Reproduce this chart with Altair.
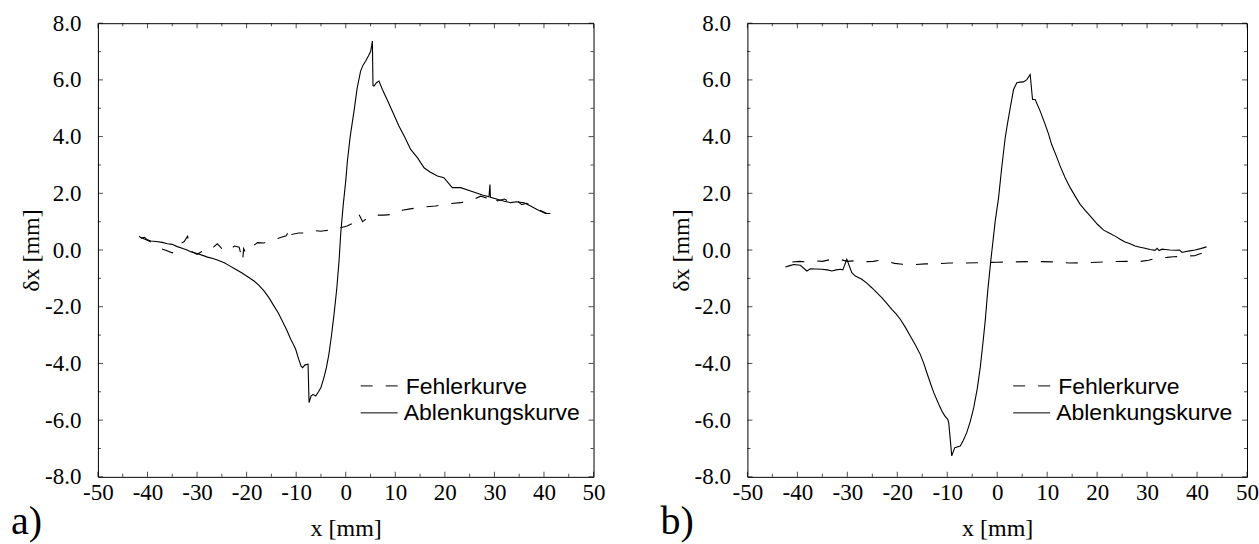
import altair as alt
import pandas as pd

# ---------------- data ----------------
# panel a) Ablenkungskurve
a_abl_x = [-41.7, -41.2, -40.6, -40.0, -39.3, -38.3, -37.0, -36.0, -35.0, -34.0, -33.0, -32.0,
           -31.3, -30.0, -29.0, -27.9, -26.8, -25.9, -24.5, -23.5, -22.5, -21.0, -19.7, -18.5,
           -17.5, -16.5, -15.5, -14.5, -13.6, -12.8, -11.9, -11.1, -10.5, -10.1, -9.5, -9.0,
           -8.7, -8.2, -7.6, -7.4, -7.0, -6.6, -6.05, -5.5, -5.0, -4.4, -3.9, -3.4, -2.9,
           -2.36, -1.8, -1.35, -1.0, -0.5, 0.0, 0.34, 0.9, 1.67, 2.3, 3.0, 3.5, 4.0, 4.6,
           5.04, 5.38, 5.5, 5.71, 6.2, 6.71, 7.4, 8.5, 9.7, 10.7, 11.8, 13.1, 14.5, 15.8,
           17.0, 18.5, 19.8, 21.5, 23.2, 25.2, 27.6, 28.9, 29.1, 29.2, 30.6, 32.0, 33.3,
           34.5, 36.0, 37.3, 38.6, 40.3, 41.3]
a_abl_y = [0.49, 0.42, 0.45, 0.36, 0.32, 0.30, 0.27, 0.22, 0.20, 0.12, 0.06, 0.00,
           -0.06, -0.12, -0.18, -0.25, -0.30, -0.35, -0.45, -0.55, -0.65, -0.80, -0.95, -1.09,
           -1.25, -1.44, -1.68, -1.97, -2.22, -2.50, -2.82, -3.15, -3.35, -3.50, -3.85, -4.10,
           -4.15, -4.05, -4.03, -5.38, -5.15, -5.09, -5.15, -5.00, -4.85, -4.50, -4.15, -3.68, -3.05,
           -2.27, -1.35, -0.39, 0.60, 1.60, 2.43, 3.14, 4.00, 4.90, 5.70, 6.31, 6.52, 6.66, 6.85,
           7.01, 7.37, 5.80, 5.78, 5.90, 5.96, 5.66, 5.25, 4.78, 4.38, 4.02, 3.55, 3.25, 2.90,
           2.75, 2.61, 2.55, 2.20, 2.20, 2.08, 1.94, 1.88, 2.31, 1.86, 1.79, 1.72, 1.67,
           1.70, 1.67, 1.55, 1.43, 1.29, 1.29]

# panel a) Fehlerkurve
a_feh_x = [-41.5, -40.5, -39.5, -38.5, -37.3, -36.2, -35.0, -34.0, -33.3, -32.6, -31.9, -31.5,
           -31.0, -30.0, -29.0, -27.6, -26.7, -25.9, -25.0, -23.5, -22.5, -21.5, -20.8, -20.6,
           -20.2, -19.0, -17.8, -16.5, -15.5, -14.1, -13.0, -12.0, -11.5, -11.1, -10.9, -9.5,
           -8.4, -7.0, -6.05, -5.0, -4.4, -3.0, -1.7, 0.3, 1.5, 2.6, 3.0, 3.4, 4.5, 5.4, 7.7,
           9.0, 10.1, 11.4, 13.0, 14.4, 16.0, 18.1, 19.5, 20.8, 23.2, 24.8, 26.0, 27.2, 28.6,
           29.5, 30.6, 32.0, 33.5, 34.5, 35.5, 36.5, 38.0, 39.5, 40.5]
a_feh_y = [0.45, 0.38, 0.30, 0.20, 0.05, -0.02, -0.10, 0.00, 0.22, 0.30, 0.49, 0.10,
           -0.06, -0.15, -0.05, -0.04, 0.10, 0.22, 0.05, -0.04, 0.14, 0.10, -0.39, 0.05,
           -0.10, 0.10, 0.26, 0.25, 0.30, 0.38, 0.45, 0.50, 0.67, 0.79, 0.55, 0.60,
           0.60, 0.62, 0.68, 0.66, 0.68, 0.70, 0.76, 0.85, 0.95, 1.27, 1.15, 1.00, 1.15, 1.23, 1.23,
           1.25, 1.28, 1.40, 1.45, 1.49, 1.52, 1.55, 1.60, 1.63, 1.67, 1.73, 1.80, 1.90, 1.83,
           1.95, 1.73, 1.80, 1.65, 1.75, 1.60, 1.65, 1.50, 1.38, 1.30]

# panel b) Ablenkungskurve
b_abl_x = [-42.4, -41.5, -40.7, -39.4, -38.1, -37.4, -36.3, -35.1, -34.0, -33.1, -32.2, -31.4,
           -30.9, -30.1, -29.1, -28.4, -27.1, -26.1, -25.1, -24.1, -23.1, -22.1, -21.1, -20.2,
           -19.4, -18.4, -17.4, -16.4, -15.4, -14.7, -14.1, -13.4, -12.7, -11.7, -11.1, -10.5,
           -9.9, -9.7, -9.1, -8.5, -7.4, -6.8, -6.1, -5.4, -4.7, -4.0, -3.4, -2.9, -2.4, -1.9,
           -1.3, -0.4, 0.27, 0.9, 1.6, 2.1, 2.6, 3.27, 3.93, 4.6, 5.27, 5.93, 6.6, 7.07, 7.6,
           8.6, 9.6, 10.3, 10.9, 11.8, 12.6, 13.6, 14.6, 15.6, 16.6, 17.7, 18.9, 20.1, 21.3,
           22.4, 23.6, 24.6, 25.6, 26.6, 27.6, 28.6, 29.6, 30.6, 31.6, 32.0, 32.4, 33.0, 33.6,
           34.6, 35.6, 36.5, 37.0, 37.3, 38.5, 39.6, 40.7, 41.9]
b_abl_y = [-0.60, -0.55, -0.51, -0.54, -0.74, -0.66, -0.67, -0.68, -0.70, -0.74, -0.70, -0.68,
           -0.70, -0.33, -0.80, -0.92, -1.03, -1.17, -1.33, -1.50, -1.68, -1.88, -2.09, -2.26,
           -2.44, -2.72, -3.03, -3.34, -3.68, -4.00, -4.32, -4.68, -5.03, -5.44, -5.67, -5.85,
           -5.97, -6.10, -7.26, -6.97, -6.91, -6.72, -6.44, -6.05, -5.56, -4.90, -4.15, -3.35, -2.50, -1.45,
           -0.40, 1.02, 1.84, 2.90, 3.96, 4.50, 5.01, 5.66, 5.90, 5.92, 5.93, 6.01, 6.19, 5.31, 5.31,
           4.90, 4.43, 4.08, 3.72, 3.33, 2.96, 2.55, 2.20, 1.90, 1.61, 1.38, 1.14, 0.90, 0.70,
           0.60, 0.49, 0.38, 0.28, 0.22, 0.14, 0.10, 0.06, 0.02, -0.01, 0.06, -0.02, 0.03, 0.02,
           0.00, -0.01, 0.00, -0.08, -0.07, -0.03, 0.00, 0.05, 0.11]

# panel b) Fehlerkurve
b_feh_x = [-41.0, -39.5, -38.0, -37.0, -35.0, -33.0, -31.5, -30.0, -28.5, -27.4, -26.0, -24.8,
           -23.5, -22.3, -20.5, -19.0, -17.0, -14.4, -12.0, -9.5, -7.0, -4.0, -2.0, 0.0, 3.0,
           6.0, 9.0, 12.0, 14.5, 17.0, 20.0, 23.0, 26.0, 28.0, 30.3, 32.3, 34.0, 35.3, 38.0,
           39.5, 40.6, 42.4]
b_feh_y = [-0.42, -0.40, -0.42, -0.38, -0.40, -0.32, -0.33, -0.40, -0.38, -0.40, -0.41, -0.40,
           -0.36, -0.40, -0.47, -0.50, -0.52, -0.49, -0.48, -0.46, -0.46, -0.45, -0.44, -0.43, -0.42,
           -0.41, -0.41, -0.42, -0.46, -0.45, -0.43, -0.41, -0.40, -0.42, -0.36, -0.27, -0.26, -0.24, -0.21,
           -0.20, -0.13, -0.06]

x_major = [-50, -40, -30, -20, -10, 0, 10, 20, 30, 40, 50]
x_minor = [-45, -35, -25, -15, -5, 5, 15, 25, 35, 45]
y_major = [-8, -6, -4, -2, 0, 2, 4, 6, 8]
y_minor = [-7, -5, -3, -1, 1, 3, 5, 7]

legend_labels = ["Fehlerkurve", "Ablenkungskurve"]
panel_labels = ["a)", "b)"]

SERIF = "Liberation Serif"
SANS = "Liberation Sans"
DASH = [12, 13]


def series_df(xs, ys):
    return pd.DataFrame({"x": xs, "y": ys, "i": list(range(len(xs)))})


def panel(abl_x, abl_y, feh_x, feh_y, width, label, leg_shift):
    xs = alt.Scale(domain=[-50, 50], nice=False, zero=False)
    ys = alt.Scale(domain=[-8, 8], nice=False, zero=False)
    minus_fix = "replace(datum.label, '\u2212', '-')"
    xax = alt.Axis(values=x_major, ticks=False, domain=False, grid=False,
                   labelFont=SERIF, labelFontSize=23, labelColor="black",
                   labelPadding=5, labelExpr=minus_fix, labelFlush=False, labelOverlap=False,
                   title="x [mm]", titleFont=SERIF, titleFontSize=24,
                   titleFontWeight="normal", titleColor="black", titlePadding=12)
    yax = alt.Axis(values=y_major, ticks=False, domain=False, grid=False, format=".1f",
                   labelFont=SERIF, labelFontSize=23, labelColor="black",
                   labelPadding=17, labelExpr=minus_fix, labelFlush=False, labelOverlap=False,
                   title="\u03b4x [mm]", titleFont=SERIF, titleFontSize=24,
                   titleFontWeight="normal", titleColor="black", titlePadding=1)

    abl = alt.Chart(series_df(abl_x, abl_y)).mark_line(color="black", strokeWidth=1.1).encode(
        x=alt.X("x:Q", scale=xs, axis=xax),
        y=alt.Y("y:Q", scale=ys, axis=yax),
        order="i:O",
    )
    feh = alt.Chart(series_df(feh_x, feh_y)).mark_line(
        color="black", strokeWidth=1.1, strokeDash=DASH).encode(
        x=alt.X("x:Q", scale=xs), y=alt.Y("y:Q", scale=ys), order="i:O")

    def xticks(vals, size):
        d = pd.DataFrame({"v": vals})
        bottom = alt.Chart(d).mark_tick(orient="vertical", size=size, thickness=1,
                                        color="black", yOffset=-size / 2).encode(
            x=alt.X("v:Q", scale=xs), y=alt.datum(-8))
        top = alt.Chart(d).mark_tick(orient="vertical", size=size, thickness=1,
                                     color="black", yOffset=size / 2).encode(
            x=alt.X("v:Q", scale=xs), y=alt.datum(8))
        return [bottom, top]

    def yticks(vals, size):
        d = pd.DataFrame({"v": vals})
        left = alt.Chart(d).mark_tick(orient="horizontal", size=size, thickness=1,
                                      color="black", xOffset=size / 2).encode(
            y=alt.Y("v:Q", scale=ys), x=alt.datum(-50))
        right = alt.Chart(d).mark_tick(orient="horizontal", size=size, thickness=1,
                                       color="black", xOffset=-size / 2).encode(
            y=alt.Y("v:Q", scale=ys), x=alt.datum(50))
        return [left, right]

    ticks = xticks(x_major, 5) + xticks(x_minor, 3) + yticks(y_major, 5) + yticks(y_minor, 3)

    sx0 = 263 + leg_shift
    leg = [
        alt.Chart(pd.DataFrame({"t": [legend_labels[0]]})).mark_rule(
            color="black", strokeWidth=1, strokeDash=DASH).encode(
            x=alt.value(sx0), x2=alt.value(sx0 + 37), y=alt.value(363)),
        alt.Chart(pd.DataFrame({"t": [legend_labels[1]]})).mark_rule(
            color="black", strokeWidth=1).encode(
            x=alt.value(sx0), x2=alt.value(sx0 + 37), y=alt.value(390)),
        alt.Chart(pd.DataFrame({"t": [legend_labels[0]]})).mark_text(
            font=SANS, fontSize=23, align="left", baseline="alphabetic", color="black").encode(
            text="t:N", x=alt.value(sx0 + 45), y=alt.value(371)),
        alt.Chart(pd.DataFrame({"t": [legend_labels[1]]})).mark_text(
            font=SANS, fontSize=23, align="left", baseline="alphabetic", color="black").encode(
            text="t:N", x=alt.value(sx0 + 43), y=alt.value(397)),
    ]
    lab = alt.Chart(pd.DataFrame({"t": [label]})).mark_text(
        font=SERIF, fontSize=40, align="left", baseline="alphabetic", color="black").encode(
        text="t:N", x=alt.value(-87), y=alt.value(511))

    return alt.layer(feh, abl, *ticks, *leg, lab).properties(width=width, height=454)


left = panel(a_abl_x, a_abl_y, a_feh_x, a_feh_y, 496, panel_labels[0], 0)
right = panel(b_abl_x, b_abl_y, b_feh_x, b_feh_y, 500, panel_labels[1], 3)

chart = alt.hconcat(left, right, spacing=54).properties(
    padding={"left": 10, "top": 11, "right": 0, "bottom": 0},
    background="white",
).configure_view(stroke="black", strokeWidth=1).configure_concat(spacing=54)

chart.save("out.html", embed_options={"renderer": "svg", "actions": False})
